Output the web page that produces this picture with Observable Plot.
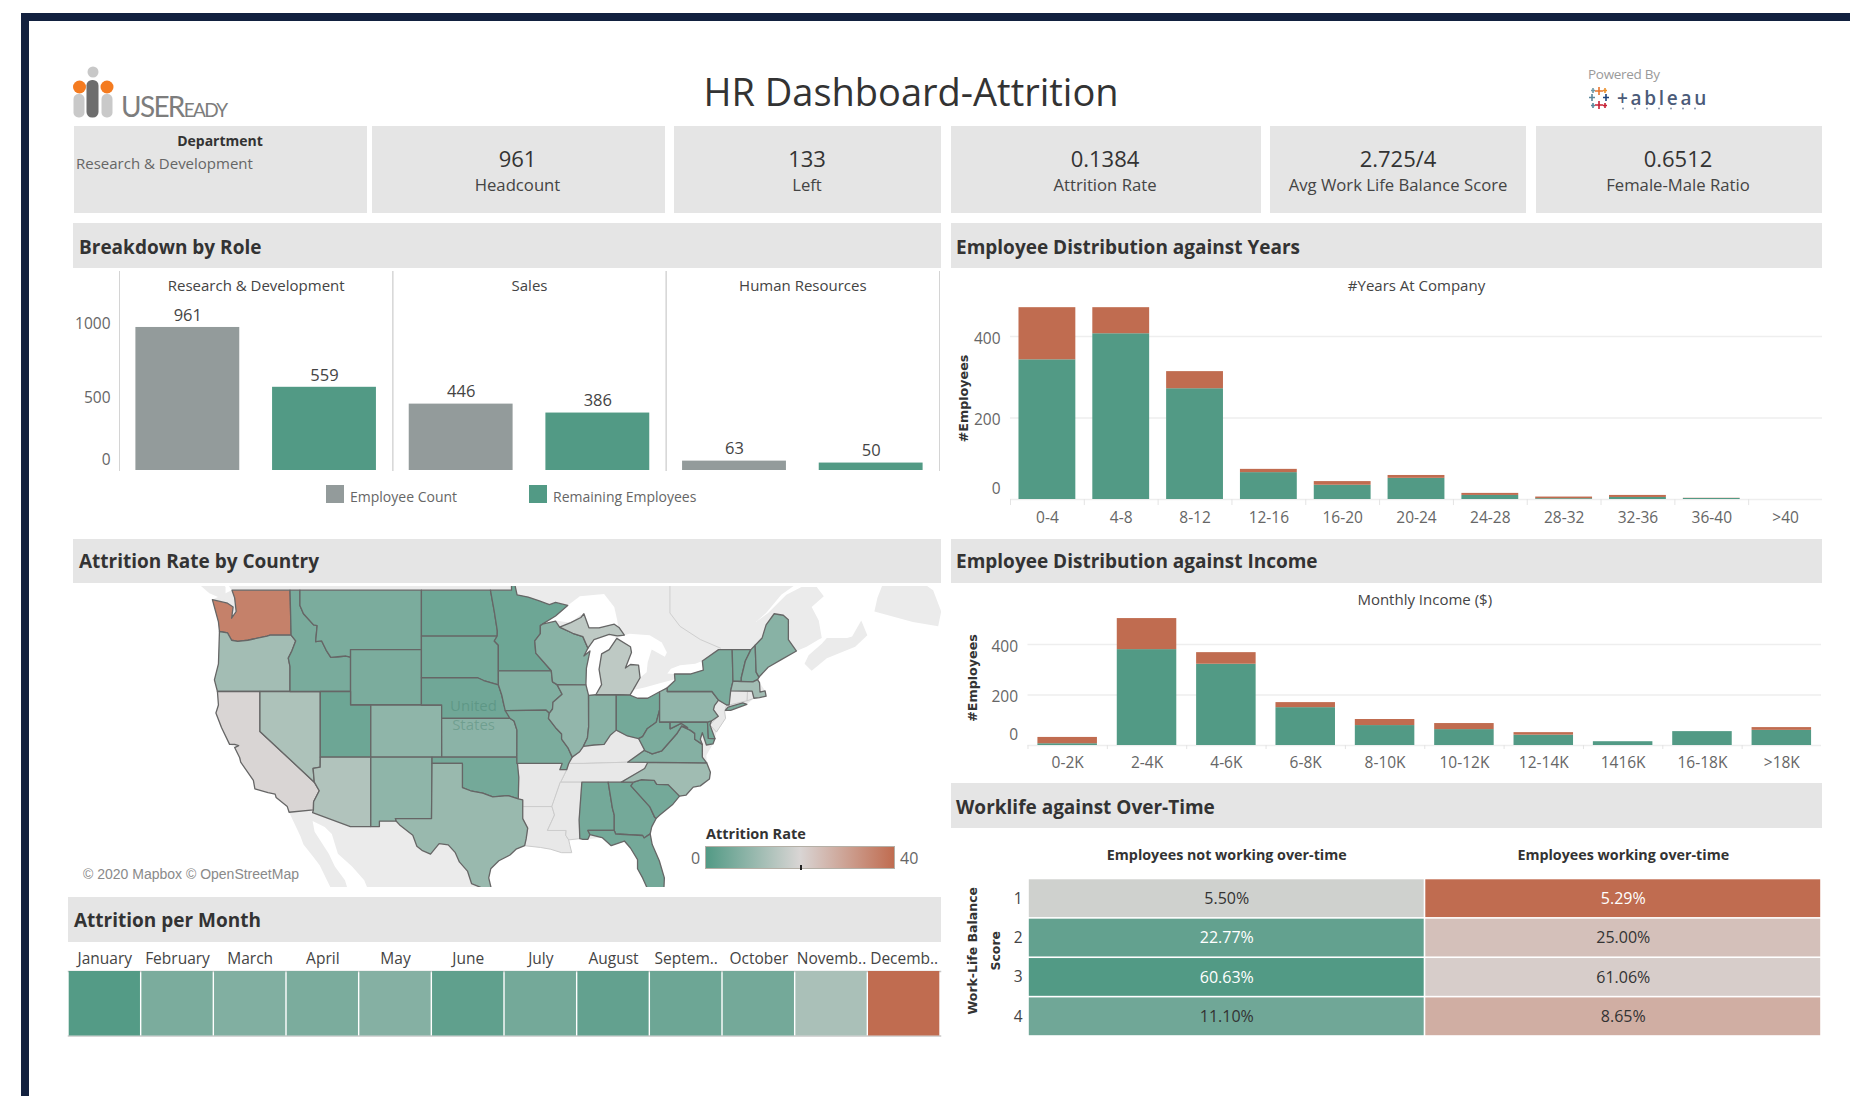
<!DOCTYPE html>
<html><head><meta charset="utf-8">
<script src="https://cdn.jsdelivr.net/npm/d3@7"></script>
<script src="https://cdn.jsdelivr.net/npm/@observablehq/plot@0.6"></script>
<style>
html,body{margin:0;padding:0;background:#fff;overflow:hidden}
#page{position:relative;width:1850px;height:1096px;font-family:"Open Sans",sans-serif;color:#333}
#page>*{position:absolute}
#page svg{display:block}
.box{background:#e5e5e5}
.txt{white-space:nowrap;line-height:1;transform:translate(-50%,-50%)}
.head{white-space:nowrap;line-height:1;transform:translateY(-50%);font-weight:700;font-size:19px;color:#333}
</style></head><body><div id="page"></div>
<script>
// ---------- DATA ----------
const kpiValues=["961","133","0.1384","2.725/4","0.6512"];
const kpiLabels=["Headcount","Left","Attrition Rate","Avg Work Life Balance Score","Female-Male Ratio"];
const departments=["Research & Development","Sales","Human Resources"];
const employeeCount=[961,446,63];
const remainingEmployees=[559,386,50];
const roleMeasures=["Employee Count","Remaining Employees"];
const yearBins=["0-4","4-8","8-12","12-16","16-20","20-24","24-28","28-32","32-36","36-40",">40"];
const yearStayed=[343,407,272,66,35,52,10,2,5,2.5,0];
const yearLeft=[128,64,42,8,9,7,5,4,5,0.5,0];
const incomeBins=["0-2K","2-4K","4-6K","6-8K","8-10K","10-12K","12-14K","1416K","16-18K",">18K"];
const incomeStayed=[7,380,322,150,79,63,41,15,55,60];
const incomeLeft=[25,123,46,20,24,24,10,0,0,11];
const months=["January","February","March","April","May","June","July","August","Septem..","October","Novemb..","Decemb.."];
const monthRate=[0.3,6,7,6,7.5,2,5,2.5,4,5,13,40];
const overtimeGroups=["Employees not working over-time","Employees working over-time"];
const balanceScores=[1,2,3,4];
const notOvertimeShare=["5.50%","22.77%","60.63%","11.10%"];
const overtimeShare=["5.29%","25.00%","61.06%","8.65%"];
const notOvertimeRate=[18.5,2.5,0,4.5];
const overtimeRate=[40,24,21.5,27.4];
const rateDomain=[0,20,40];
const rateRange=["#529a85","#d9d5d4","#c06c50"];

// state outlines, longitude / latitude
const washington=[[-124.7,48.38],[-124.1,46.9],[-124,46.25],[-123.2,46.15],[-122.8,45.65],[-122.2,45.57],[-121.2,45.65],[-119.3,45.93],[-119,46],[-116.92,46],[-117.03,49],[-122.76,49],[-122.5,48.5],[-122.35,47.6],[-122.8,47.15],[-122.65,47.9],[-123.2,48.15]];
const oregon=[[-124.2,42],[-124.5,42.85],[-124.1,44],[-124,46.25],[-123.2,46.15],[-122.8,45.65],[-122.2,45.57],[-121.2,45.65],[-119.3,45.93],[-119,46],[-116.92,46],[-116.47,45.6],[-116.85,44.9],[-117.2,44.4],[-117.03,43.8],[-117.03,42]];
const california=[[-124.2,42],[-120,42],[-120,39],[-114.63,35],[-114.14,34.3],[-114.7,33.4],[-114.72,32.72],[-117.12,32.53],[-117.3,33],[-118.4,33.75],[-118.5,34.03],[-119.2,34.15],[-120.5,34.45],[-120.65,35.15],[-121.9,36.6],[-122,36.95],[-122.5,37.75],[-122.1,37.9],[-122.5,38],[-123,38],[-123.8,39.3],[-124.35,40.4],[-124.1,41]];
const nevada=[[-120,42],[-114.04,42],[-114.04,37],[-114.05,36.2],[-114.75,36.1],[-114.63,35],[-120,39]];
const idaho=[[-117.03,49],[-116.05,49],[-116.05,48],[-115.7,47.45],[-114.7,46.7],[-114.35,46.65],[-114.5,45.55],[-113.9,45.6],[-113.45,44.95],[-113,44.45],[-112.3,44.5],[-111.5,44.55],[-111.05,44.47],[-111.05,42],[-117.03,42],[-117.03,43.8],[-117.2,44.4],[-116.85,44.9],[-116.47,45.6],[-116.92,46]];
const montana=[[-116.05,49],[-104.05,49],[-104.05,45],[-111.05,45],[-111.05,44.47],[-111.5,44.55],[-112.3,44.5],[-113,44.45],[-113.45,44.95],[-113.9,45.6],[-114.5,45.55],[-114.35,46.65],[-114.7,46.7],[-115.7,47.45],[-116.05,48]];
const wyoming=[[-111.05,45],[-104.05,45],[-104.05,41],[-111.05,41]];
const utah=[[-114.04,42],[-111.05,42],[-111.05,41],[-109.05,41],[-109.05,37],[-114.04,37]];
const colorado=[[-109.05,41],[-102.05,41],[-102.05,37],[-109.05,37]];
const arizona=[[-114.04,37],[-109.05,37],[-109.05,31.33],[-111.07,31.33],[-114.8,32.5],[-114.72,32.72],[-114.7,33.4],[-114.14,34.3],[-114.63,35],[-114.75,36.1],[-114.05,36.2]];
const newMexico=[[-109.05,37],[-103,37],[-103.05,32],[-106.62,32],[-106.53,31.78],[-108.2,31.78],[-108.2,31.33],[-109.05,31.33]];
const northDakota=[[-104.05,49],[-97.23,49],[-96.85,47.6],[-96.55,46.3],[-96.56,45.94],[-104.05,45.94]];
const southDakota=[[-104.05,45.94],[-96.56,45.94],[-96.85,45.6],[-96.45,45.3],[-96.45,43.5],[-96.45,42.49],[-97.9,42.8],[-98.5,43],[-104.05,43]];
const nebraska=[[-104.05,43],[-98.5,43],[-97.9,42.8],[-96.45,42.49],[-96.1,41.7],[-95.9,41],[-95.31,40],[-102.05,40],[-102.05,41],[-104.05,41]];
const kansas=[[-102.05,40],[-95.31,40],[-94.9,39.8],[-94.61,39.1],[-94.62,37],[-102.04,37]];
const oklahoma=[[-103,37],[-94.62,37],[-94.43,35.4],[-94.48,33.64],[-95.5,33.9],[-97,33.8],[-98,34.1],[-99.2,34.3],[-100,34.56],[-100,36.5],[-103,36.5]];
const texas=[[-106.62,32],[-103.05,32],[-103,36.5],[-100,36.5],[-100,34.56],[-99.2,34.3],[-98,34.1],[-97,33.8],[-95.5,33.9],[-94.48,33.64],[-94.04,33.55],[-94.04,32],[-93.55,31.2],[-93.7,30.3],[-93.85,29.7],[-94.7,29.4],[-95.3,28.9],[-96.4,28.4],[-97.2,27.7],[-97.4,26.9],[-97.15,25.96],[-97.5,25.85],[-98.2,26.06],[-99.1,26.4],[-99.5,27.5],[-100.3,28.3],[-100.7,29.1],[-101.4,29.77],[-102.3,29.88],[-103.15,28.97],[-104,29.3],[-104.5,29.65],[-104.9,30.6],[-106.2,31.47],[-106.53,31.78]];
const minnesota=[[-97.23,49],[-95.15,49],[-95.15,49.38],[-94.8,49.3],[-94.6,48.7],[-93.5,48.55],[-92.4,48.3],[-91.4,48.05],[-90.8,48.2],[-89.6,48],[-90.8,47.3],[-92.1,46.75],[-92.3,46.65],[-92.3,46.1],[-92.85,45.6],[-92.75,44.75],[-91.22,43.5],[-96.45,43.5],[-96.45,45.3],[-96.85,45.6],[-96.56,45.94],[-96.55,46.3],[-96.85,47.6]];
const iowa=[[-96.45,43.5],[-91.22,43.5],[-91.1,42.7],[-90.65,42.5],[-90.15,41.8],[-91.05,41.2],[-91.1,40.7],[-91.42,40.38],[-91.73,40.61],[-95.77,40.58],[-95.9,41],[-96.1,41.7],[-96.45,42.49]];
const missouri=[[-95.77,40.58],[-91.73,40.61],[-91.42,40.38],[-91.5,40],[-90.7,39.2],[-90.2,38.8],[-90.2,38.4],[-89.55,37.7],[-89.15,37],[-89.5,36.5],[-89.7,36],[-90.37,36],[-90.15,36.5],[-94.62,36.5],[-94.62,37],[-94.61,39.1],[-94.9,39.8],[-95.31,40]];
const wisconsin=[[-92.1,46.75],[-90.8,46.95],[-90.4,46.55],[-89.1,46.13],[-88.1,45.9],[-87.6,45.1],[-88,44.55],[-87.4,44.9],[-87.75,43.7],[-87.8,42.49],[-90.65,42.5],[-91.1,42.7],[-91.22,43.5],[-92.75,44.75],[-92.85,45.6],[-92.3,46.1],[-92.3,46.65]];
const illinois=[[-90.65,42.5],[-87.8,42.49],[-87.55,41.75],[-87.53,39.35],[-87.65,38.5],[-88.05,37.85],[-88.45,37.4],[-89.15,37],[-89.55,37.7],[-90.2,38.4],[-90.2,38.8],[-90.7,39.2],[-91.5,40],[-91.42,40.38],[-91.1,40.7],[-91.05,41.2],[-90.15,41.8]];
const indiana=[[-87.53,41.72],[-86.82,41.76],[-84.8,41.76],[-84.8,39.1],[-85.4,38.7],[-86,38],[-87,37.95],[-88.05,37.85],[-87.65,38.5],[-87.53,39.35]];
const michiganLower=[[-86.82,41.76],[-84.8,41.76],[-83.45,41.73],[-83.15,42.1],[-82.45,43],[-82.6,43.9],[-83.4,43.95],[-83.9,43.7],[-83.3,44.8],[-83.4,45.2],[-84.75,45.78],[-85.5,45],[-86.25,44.7],[-86.5,43.6],[-86.25,42.5]];
const michiganUpper=[[-90.4,46.55],[-89.1,46.13],[-88.1,45.9],[-87.6,45.1],[-87,45.7],[-85.5,46.05],[-84.7,45.95],[-84,46],[-84.5,46.5],[-85,46.75],[-86.5,46.5],[-87.5,46.5],[-88,47.45],[-88.3,47.2],[-89.3,46.85]];
const ohio=[[-84.8,41.76],[-83.45,41.73],[-82.7,41.5],[-81.7,41.5],[-80.52,41.98],[-80.52,40.64],[-80.85,39.7],[-81.75,39.2],[-82.2,38.6],[-82.6,38.45],[-83.7,38.65],[-84.8,39.1]];
const alabama=[[-88.2,35],[-85.6,35],[-85.18,32.87],[-85,32.3],[-85,31],[-87.6,31],[-87.4,30.65],[-87.6,30.25],[-88.1,30.25],[-88.4,30.3],[-88.47,31.9]];
const georgia=[[-85.6,35],[-83.1,35],[-83.35,34.7],[-81.5,33],[-81,32.1],[-80.85,32.03],[-81.3,31.3],[-81.45,30.71],[-82.05,30.36],[-82.2,30.57],[-84.86,30.7],[-85,31],[-85,32.3],[-85.18,32.87]];
const florida=[[-87.6,31],[-85,31],[-84.86,30.7],[-82.2,30.57],[-82.05,30.36],[-81.45,30.71],[-81.25,29.8],[-80.55,28.4],[-80.05,26.9],[-80.1,25.8],[-80.4,25.2],[-81.1,25.15],[-81.8,26.1],[-82.2,26.9],[-82.7,27.7],[-82.7,28.5],[-83.4,29.5],[-84,30.1],[-85.3,29.7],[-86.2,30.4],[-87.4,30.65]];
const southCarolina=[[-83.1,35],[-82.3,35.2],[-81.05,35.15],[-80.8,34.82],[-79.67,34.8],[-78.55,33.86],[-79.2,33.2],[-80.5,32.3],[-80.85,32.03],[-81,32.1],[-81.5,33],[-83.35,34.7]];
const northCarolina=[[-84.3,35],[-83.1,35],[-82.3,35.2],[-81.05,35.15],[-80.8,34.82],[-79.67,34.8],[-78.55,33.86],[-77.9,33.95],[-77.2,34.6],[-76.5,34.7],[-75.6,35.25],[-75.5,35.8],[-75.87,36.55],[-81.68,36.59],[-82,36.1]];
const virginia=[[-83.68,36.6],[-75.87,36.55],[-76.3,37],[-76.3,37.6],[-76.3,38],[-77.05,38.4],[-77.05,38.85],[-77.5,39.1],[-78.35,39.4],[-78.85,38.8],[-79.3,38.4],[-80.3,37.5],[-81.25,37.25],[-81.95,37.5],[-82,37.55]];
const westVirginia=[[-82.6,38.45],[-82,37.55],[-81.95,37.5],[-81.25,37.25],[-80.3,37.5],[-79.3,38.4],[-78.85,38.8],[-78.35,39.4],[-77.75,39.3],[-78.4,39.62],[-79.48,39.2],[-79.48,39.72],[-80.52,39.72],[-80.52,40.64],[-80.85,39.7],[-81.75,39.2],[-82.2,38.6]];
const maryland=[[-79.48,39.72],[-75.79,39.72],[-75.7,38.46],[-75.05,38.45],[-75.25,38.03],[-75.9,37.95],[-76.3,38.9],[-76.5,38.4],[-76.3,38],[-77.05,38.4],[-77.05,38.85],[-77.5,39.1],[-78.35,39.4],[-77.75,39.3],[-78.4,39.62],[-79.48,39.2]];
const delaware=[[-75.79,39.72],[-75.4,39.8],[-75.55,39.5],[-75.05,38.45],[-75.7,38.46]];
const pennsylvania=[[-80.52,41.98],[-79.76,42.27],[-79.76,42],[-75.35,42],[-74.7,41.36],[-75.1,40.95],[-75.2,40.65],[-74.72,40.15],[-75.4,39.8],[-75.79,39.72],[-80.52,39.72]];
const newYork=[[-79.76,42.27],[-79.76,42],[-75.35,42],[-74.7,41.36],[-73.9,41],[-73.65,41],[-73.5,42.05],[-73.27,42.75],[-73.35,45],[-74.7,45],[-76.3,44.2],[-76.2,43.55],[-77.5,43.27],[-79.05,43.27],[-79,42.8]];
const longIsland=[[-74.03,40.6],[-73.75,40.85],[-72.3,41.15],[-71.9,41.05],[-73.5,40.6]];
const vermont=[[-73.35,45],[-71.5,45],[-72.05,44.2],[-72.45,43],[-72.45,42.73],[-73.27,42.75]];
const newHampshire=[[-71.5,45],[-71.08,45.3],[-70.98,43.4],[-70.7,43.05],[-70.85,42.87],[-71.3,42.7],[-72.45,42.73],[-72.45,43],[-72.05,44.2]];
const maine=[[-71.08,45.3],[-70.4,45.8],[-70,46.7],[-69.2,47.45],[-68.3,47.35],[-67.8,47.05],[-67.8,45.7],[-67,44.9],[-68.5,44.3],[-69.8,43.75],[-70.7,43.05],[-70.98,43.4]];
const massachusetts=[[-73.5,42.05],[-71.8,42.02],[-71.38,42.02],[-71.2,41.5],[-70.65,41.55],[-70,41.65],[-70.1,42.05],[-70.6,41.95],[-70.65,42.65],[-70.85,42.87],[-71.3,42.7],[-72.45,42.73],[-73.27,42.75]];
// states with no reported value: only the base map shows them
const kentucky=[[-89.15,37],[-88.45,37.4],[-88.05,37.85],[-87,37.95],[-86,38],[-85.4,38.7],[-84.8,39.1],[-83.7,38.65],[-82.6,38.45],[-82,37.55],[-83.68,36.6],[-88.07,36.5],[-89.5,36.5]];
const tennessee=[[-89.5,36.5],[-88.07,36.5],[-83.68,36.6],[-81.68,36.59],[-82,36.1],[-84.3,35],[-90.3,35],[-89.7,36]];
const arkansas=[[-94.62,36.5],[-90.15,36.5],[-90.37,36],[-89.7,36],[-90.3,35],[-91.15,33],[-94.04,33],[-94.04,33.55],[-94.48,33.64],[-94.43,35.4]];
const louisiana=[[-94.04,33],[-91.15,33],[-90.9,32.3],[-91.6,31],[-89.75,31],[-89.8,30.6],[-89.5,30.2],[-89.4,29.8],[-89.2,29.1],[-90.2,29.1],[-91.3,29.4],[-92.3,29.55],[-93.85,29.7],[-93.7,30.3],[-93.55,31.2],[-94.04,32]];
const mississippi=[[-90.3,35],[-88.2,35],[-88.47,31.9],[-88.4,30.3],[-89.5,30.2],[-89.8,30.6],[-89.75,31],[-91.6,31],[-90.9,32.3],[-91.15,33]];
const connecticut=[[-73.5,42.05],[-71.8,42.02],[-71.85,41.32],[-73.65,41]];
const rhodeIsland=[[-71.8,42.02],[-71.38,42.02],[-71.2,41.5],[-71.85,41.32]];
const newJersey=[[-74.7,41.36],[-73.9,41],[-74.1,40.5],[-74,40],[-74.9,38.95],[-75.55,39.5],[-74.72,40.15],[-75.2,40.65],[-75.1,40.95]];
// base map
const mainland=[[-123.2,49.4],[-122.8,49],[-124.7,48.38],[-124.1,46.9],[-124,46.25],[-124.1,44],[-124.5,42.85],[-124.2,42],[-124.1,41],[-124.35,40.4],[-123.8,39.3],[-123,38],[-122.5,37.75],[-122,36.95],[-121.9,36.6],[-120.65,35.15],[-120.5,34.45],[-119.2,34.15],[-118.5,34.03],[-118.4,33.75],[-117.3,33],[-117.12,32.53],[-116,30.5],[-115.7,29.8],[-114.7,28.7],[-114.1,28],[-113,26],[-111.2,25.5],[-111.6,26.7],[-112.6,27.9],[-113.2,29],[-114.6,30.9],[-114.8,31.8],[-113.6,31.3],[-112.9,30.7],[-112.3,29],[-110.9,27.9],[-109.7,26.7],[-109.2,25.6],[-97.7,25],[-97.15,25.96],[-97.4,26.9],[-97.2,27.7],[-96.4,28.4],[-95.3,28.9],[-94.7,29.4],[-93.85,29.7],[-92.3,29.55],[-91.3,29.4],[-90.2,29.1],[-89.2,29.1],[-89.4,29.8],[-89.5,30.2],[-88.4,30.3],[-87.6,30.25],[-86.2,30.4],[-85.3,29.7],[-84,30.1],[-83.4,29.5],[-82.7,28.5],[-82.7,27.7],[-82.2,26.9],[-81.8,26.1],[-81.5,25],[-80.2,25],[-80.05,26.9],[-80.55,28.4],[-81.25,29.8],[-81.45,30.71],[-81,32],[-80,32.6],[-79.2,33.2],[-78.55,33.86],[-77.9,33.95],[-77.2,34.6],[-76.5,34.7],[-75.6,35.25],[-75.5,35.8],[-75.87,36.55],[-75.9,37.15],[-75.25,38.03],[-75.05,38.45],[-74.9,38.95],[-74,40],[-74.1,40.5],[-73.5,40.6],[-71.9,41.05],[-71.2,41.5],[-70.65,41.55],[-70,41.65],[-70.1,42.05],[-70.65,42.65],[-70.7,43.05],[-69.8,43.75],[-68.5,44.3],[-67,44.9],[-66,45.2],[-64.8,45.7],[-64.5,45.8],[-64.8,47],[-65.5,47.9],[-64.3,48.6],[-65,49.2],[-66.5,49.2],[-68,48.7],[-69.8,47.5],[-71,46.9],[-70,47.5],[-68.5,48.7],[-67,49.4],[-67,51],[-128,51]];
const vancouverIsland=[[-128,50.5],[-125,48.8],[-123.4,48.35],[-123.4,49.2],[-125,50.5]];
const novaScotia=[[-66.2,44],[-65.5,43.5],[-64,44.4],[-61.2,45.2],[-60,46],[-60.6,47],[-61.5,45.9],[-62,45.8],[-64,45.8],[-64.5,45.4],[-65.8,44.6]];
const newfoundland=[[-59.3,47.6],[-55.5,46.9],[-53,46.6],[-52.7,47.6],[-53.5,49],[-55.5,49.9],[-57.5,51],[-59,48.5]];
const lakeSuperior=[[-92.1,46.75],[-90.8,47],[-89.3,46.85],[-88.3,47.4],[-87.5,46.5],[-86.5,46.5],[-85,46.75],[-84.6,46.5],[-84.7,47],[-85,47.9],[-86,48.75],[-88.4,48.6],[-89.6,48],[-90.8,47.3]];
const lakeMichigan=[[-87.8,42.49],[-87.55,41.75],[-86.82,41.76],[-86.25,42.5],[-86.5,43.6],[-86.25,44.7],[-85.5,45],[-84.75,45.78],[-85.5,46.05],[-87,45.7],[-87.6,45.1],[-88,44.55],[-87.4,44.9],[-87.75,43.7]];
const lakeHuron=[[-84.75,45.78],[-83.4,45.2],[-83.3,44.8],[-83.9,43.7],[-83.4,43.95],[-82.6,43.9],[-82.45,43],[-81.8,43.4],[-81.7,44.1],[-81.3,45],[-80,44.5],[-79.8,44.8],[-80.3,45.5],[-81.5,46],[-83.5,46.1],[-84,46]];
const lakeErie=[[-83.15,42.1],[-83.45,41.73],[-82.7,41.5],[-81.7,41.5],[-80.52,41.98],[-79,42.8],[-79,42.9],[-80.5,42.6],[-82,42.3]];
const lakeOntario=[[-79.76,43.3],[-79.05,43.27],[-77.5,43.27],[-76.2,43.55],[-76.3,44.2],[-77,44],[-78.5,43.9],[-79.4,43.65]];
const ontarioQuebecLine=[[-79.5,49.4],[-79.5,47.5],[-78.5,46.6],[-76.5,45.7],[-74.5,45.1]];

const reportedStates=[washington,oregon,california,nevada,idaho,montana,wyoming,utah,colorado,arizona,newMexico,northDakota,southDakota,nebraska,kansas,oklahoma,texas,minnesota,iowa,missouri,wisconsin,illinois,indiana,michiganLower,michiganUpper,ohio,alabama,georgia,florida,southCarolina,northCarolina,virginia,westVirginia,maryland,delaware,pennsylvania,newYork,longIsland,vermont,newHampshire,maine,massachusetts];
const reportedRates=[36,12,20,13.5,5.8,6,6,4,9,14,9,4,5,4.5,8.5,5,10.5,4,7,6,8,9.5,8,16,16,5,5,5,5,5,11.5,7.5,6,6,5,9.5,6,6,6,7,8,12];
const unreportedStates=[kentucky,tennessee,arkansas,louisiana,mississippi,connecticut,rhodeIsland,newJersey];
const landShapes=[mainland,vancouverIsland,novaScotia,newfoundland];
const lakeShapes=[lakeSuperior,lakeMichigan,lakeHuron,lakeErie,lakeOntario];

// ---------- HELPERS ----------
const page=document.getElementById("page");
const GREEN="#529a85",RED="#c06c50",GREY="#939b9b",TICK="#666",FONT='"Open Sans",sans-serif';
function el(html,css,cls){const d=document.createElement("div");if(cls)d.className=cls;d.style.cssText=css;d.innerHTML=html;page.appendChild(d);return d;}
function box(x0,y0,x1,y1){el("",`left:${x0}px;top:${y0}px;width:${x1-x0}px;height:${y1-y0}px`,"box");}
function center(t,x,y,size,extra=""){el(t,`left:${x}px;top:${y}px;font-size:${size}px;${extra}`,"txt");}
function head(t,x,y){el(t,`left:${x}px;top:${y}px`,"head");}
function place(svg,x,y,overflow="visible"){svg.style.position="absolute";svg.style.left=x+"px";svg.style.top=y+"px";svg.style.maxWidth="none";svg.style.overflow=overflow;page.appendChild(svg);return svg;}
const plotStyle={fontFamily:FONT,fontSize:"15.5px",background:"transparent",color:"#444"};
const poly=(ring,properties={})=>({type:"Feature",properties,geometry:{type:"Polygon",coordinates:[[...ring,ring[0]]]}});

// ---------- FRAME + HEADER ----------
el("","left:21px;top:13px;width:1829px;height:7.5px;background:#12213f");
el("","left:21px;top:13px;width:8px;height:1083px;background:#12213f");
el(`<svg width="42" height="52" viewBox="0 0 42 52"><circle cx="20" cy="6" r="5.5" fill="#c8c8c8"/><circle cx="6.5" cy="21" r="6.5" fill="#f47b20"/><circle cx="34" cy="21" r="6.5" fill="#f47b20"/><rect x="0.5" y="28" width="11" height="23.5" rx="5" fill="#c9c9c9"/><rect x="13.5" y="14" width="12" height="37.5" rx="5.5" fill="#6d6d6d"/><rect x="28.5" y="28" width="11" height="23.5" rx="5" fill="#c9c9c9"/></svg>`,"left:73px;top:66px;width:42px;height:52px");
el(`USER<span style="font-size:19px">EADY</span>`,'left:121px;top:92px;font-family:Lato,sans-serif;font-weight:400;font-size:28px;letter-spacing:-1.7px;color:#7d7d7d;line-height:28px;white-space:nowrap');
center("HR Dashboard-Attrition",911,91,38,"color:#333");
el("Powered By","left:1588px;top:67px;font-size:13.500px;color:#9a9a9a;white-space:nowrap;letter-spacing:-.3px;line-height:15px");
el(`<svg width="22" height="24" viewBox="0 0 22 24"><g stroke-width="1.6"><path d="M11 1v8M7 5h8" stroke="#e8762c"/><path d="M11 15v8M7 19h8" stroke="#c72035"/><path d="M4 8v7M1 11.500h6" stroke="#5b879b"/><path d="M18 8v7M15 11.500h6" stroke="#1f457e"/><path d="M5 2v5M3 4.500h4" stroke="#7099a6"/><path d="M17 2v5M15 4.500h4" stroke="#eb912b"/><path d="M5 17v5M3 19.500h4" stroke="#59879b"/><path d="M17 17v5M15 19.500h4" stroke="#c72035"/></g></svg>`,"left:1588px;top:86px;width:22px;height:24px");
el("+ableau",'left:1617px;top:88px;font-family:"Open Sans",sans-serif;font-size:19px;font-weight:600;letter-spacing:2.7px;color:#4b5b79;line-height:20px;white-space:nowrap');
el(`<svg width="88" height="3" viewBox="0 0 88 3"><g fill="#7a8aa5"><circle cx="6" cy="1.500" r=".9"/><circle cx="18" cy="1.500" r=".9"/><circle cx="30" cy="1.500" r=".9"/><circle cx="42" cy="1.500" r=".9"/><circle cx="54" cy="1.500" r=".9"/><circle cx="66" cy="1.500" r=".9"/><circle cx="78" cy="1.500" r=".9"/></g></svg>`,"left:1617px;top:107px;width:88px;height:3px");

// ---------- KPI STRIP ----------
box(74,126,367,213);box(372,126,665,213);box(674,126,941,213);box(951,126,1261,213);box(1270,126,1526,213);box(1536,126,1822,213);
center("Department",220,141,14,"font-weight:700;color:#333");
el("Research &amp; Development","left:76px;top:154px;font-size:15px;color:#666;white-space:nowrap;line-height:18px");
const kpiCenters=[517.5,807,1105,1398,1678];
kpiValues.forEach((v,i)=>{center(v,kpiCenters[i],158,22,"color:#333");center(kpiLabels[i],kpiCenters[i],185,16.700,"color:#444");});

// ---------- SECTION HEADERS ----------
box(73,223,941,268);box(951,223,1822,268);box(73,539,941,583);box(951,539,1822,583);box(951,783,1822,828);box(68,897,941,942);
head("Breakdown by Role",79,247);head("Employee Distribution against Years",956,247);
head("Attrition Rate by Country",79,561);head("Employee Distribution against Income",956,561);
head("Worklife against Over-Time",956,807);head("Attrition per Month",74,920);

// ---------- BREAKDOWN BY ROLE ----------
const roleRows=departments.flatMap((d,i)=>[
  {department:d,measure:roleMeasures[0],value:employeeCount[i]},
  {department:d,measure:roleMeasures[1],value:remainingEmployees[i]}]);
place(Plot.plot({width:868,height:200,marginLeft:46,marginRight:2,marginTop:0,marginBottom:1,style:plotStyle,
  fx:{domain:departments,padding:0,round:false,axis:null},
  x:{domain:roleMeasures,paddingInner:.24,paddingOuter:.12,round:false,axis:null},
  y:{domain:[0,1337],axis:null},
  color:{domain:roleMeasures,range:[GREY,GREEN]},
  marks:[
    Plot.frame({anchor:"left",stroke:"#d4d4d4"}),
    Plot.frame({anchor:"right",stroke:"#d4d4d4"}),
    Plot.barY(roleRows,{fx:"department",x:"measure",y:"value",fill:"measure"}),
    Plot.text(roleRows,{fx:"department",x:"measure",y:"value",text:"value",dy:-12,fill:"#444",fontSize:16.500}),
    Plot.text(departments,{fx:d=>d,text:d=>d,frameAnchor:"top",dy:9,fill:"#444",fontSize:15}),
    Plot.axisY([500,1000],{tickSize:0,tickPadding:9,dy:2,fill:TICK,label:null,tickFormat:d=>String(d)}),
    Plot.axisY([0],{tickSize:0,tickPadding:9,dy:-10,fill:TICK,label:null})
  ]}),73,271);
el("","left:326px;top:485px;width:18px;height:18px;background:"+GREY);
el("","left:529px;top:485px;width:18px;height:18px;background:"+GREEN);
el(roleMeasures[0],"left:350px;top:488px;font-size:14px;color:#666;white-space:nowrap;line-height:18px");
el(roleMeasures[1],"left:553px;top:488px;font-size:14px;color:#666;white-space:nowrap;line-height:18px");

// ---------- STACKED DISTRIBUTIONS ----------
function stacked({bins,stayed,left,x,y,width,height,marginLeft,marginBottom,top,title,titleDy,ticks,barPadding,yLabelDx,zeroDy,axisPad}){
  const rows=bins.flatMap((b,i)=>[{bin:b,status:"Remaining",value:stayed[i]},{bin:b,status:"Left",value:left[i]}]);
  const step=(width-marginLeft)/bins.length;
  return place(Plot.plot({width,height,marginLeft,marginRight:0,marginTop:2,marginBottom,style:plotStyle,
    x:{domain:bins,paddingInner:barPadding,paddingOuter:barPadding/2,round:false,axis:null},
    y:{domain:[0,top],axis:null},
    color:{domain:["Remaining","Left"],range:[GREEN,RED]},
    marks:[
      Plot.ruleY(ticks,{stroke:"#eeeeee",strokeWidth:1.5}),
      Plot.ruleY([0],{stroke:"#eeeeee",strokeWidth:1.5}),
      Plot.ruleX(bins,{x:d=>d,dx:-step/2,y1:0,y2:-top*.03,stroke:"#e4e4e4"}),
      Plot.barY(rows,{x:"bin",y:"value",fill:"status"}),
      Plot.axisX({anchor:"bottom",tickSize:0,tickPadding:axisPad,fill:TICK,label:null}),
      Plot.axisY(ticks,{tickSize:0,tickPadding:10,dy:2,fill:TICK,label:null,tickFormat:d=>String(d)}),
      Plot.axisY([0],{tickSize:0,tickPadding:10,dy:zeroDy,fill:TICK,label:null}),
      Plot.text(["#Employees"],{frameAnchor:"left",textAnchor:"middle",rotate:-90,dx:yLabelDx,fontFamily:"DejaVu Sans",fontWeight:"bold",fontSize:12.700,fill:"#333"}),
      Plot.text([title],{frameAnchor:"top",dy:titleDy,fill:"#444",fontSize:15})
    ]}),x,y);
}
stacked({bins:yearBins,stayed:yearStayed,left:yearLeft,x:951,y:295,width:871,height:235,marginLeft:59,marginBottom:31,top:496,title:"#Years At Company",titleDy:-17,ticks:[200,400],barPadding:.23,yLabelDx:-47,zeroDy:-10,axisPad:12});
stacked({bins:incomeBins,stayed:incomeStayed,left:incomeLeft,x:951,y:608,width:870,height:170,marginLeft:76.500,marginBottom:33,top:535,title:"Monthly Income ($)",titleDy:-16,ticks:[200,400],barPadding:.25,yLabelDx:-55,zeroDy:-10,axisPad:11});

// ---------- MAP ----------
const K=580,TX=1401.2,TY=574.3;
const mercatorFlat=d3.geoTransform({point(lon,lat){this.stream.point(TX+K*lon*Math.PI/180,TY-K*Math.log(Math.tan(Math.PI/4+lat*Math.PI/360)));}});
const stateFeatures=reportedStates.map((r,i)=>poly(r,{rate:reportedRates[i]}));
place(Plot.plot({width:868,height:301,margin:0,style:plotStyle,projection:mercatorFlat,
  color:{type:"linear",domain:rateDomain,range:rateRange},
  marks:[
    Plot.geo(landShapes.map(r=>poly(r)),{fill:"#ebebeb",stroke:"none"}),
    Plot.geo(lakeShapes.map(r=>poly(r)),{fill:"#ffffff",stroke:"none"}),
    Plot.geo(unreportedStates.map(r=>poly(r)),{fill:"#e8e8e8",stroke:"#cccccc",strokeWidth:1}),
    Plot.geo([{type:"Feature",properties:{},geometry:{type:"LineString",coordinates:ontarioQuebecLine}}],{stroke:"#cfcfcf",fill:"none",strokeWidth:1}),
    Plot.geo(stateFeatures,{fill:d=>d.properties.rate,stroke:"#666",strokeWidth:1.300,strokeLinejoin:"round"}),
    Plot.text(["United\nStates"],{x:()=>-98.9,y:()=>40.3,fill:"#3c7a66",fillOpacity:.35,fontSize:15,lineHeight:1.25})
  ]}),73,586,"hidden");
el("© 2020 Mapbox © OpenStreetMap",'left:83px;top:866px;font-family:"Liberation Sans",sans-serif;font-size:14px;color:#8a8a8a;white-space:nowrap;line-height:16px');
el("Attrition Rate","left:706px;top:825px;font-size:14.500px;font-weight:700;color:#333;white-space:nowrap;line-height:18px");
el("",`left:705px;top:846px;width:188px;height:21px;border:1px solid #b4afa6;background:linear-gradient(to right,${rateRange[0]},${rateRange[1]} 50%,${rateRange[2]})`);
el("","left:800px;top:865px;width:1.5px;height:5px;background:#222");
el("0","left:691px;top:850px;font-size:16px;color:#666;line-height:17px");
el("40","left:900px;top:850px;font-size:16px;color:#666;line-height:17px");

// ---------- ATTRITION PER MONTH ----------
place(Plot.plot({width:873,height:96,marginLeft:0,marginRight:1,marginTop:31,marginBottom:0.500,style:plotStyle,
  x:{domain:months,padding:0,round:false,axis:null},
  color:{type:"linear",domain:rateDomain,range:rateRange},
  marks:[
    Plot.frame({anchor:"top",stroke:"#c8c8c8",strokeWidth:1.500}),
    Plot.frame({anchor:"bottom",stroke:"#c8c8c8",strokeWidth:1.500}),
    Plot.cell(months.map((m,i)=>({month:m,rate:monthRate[i]})),{x:"month",fill:"rate",insetLeft:.7,insetRight:.7}),
    Plot.axisX({anchor:"top",tickSize:0,tickPadding:8,fill:"#444",label:null,fontSize:15.500})
  ]}),68,940);

// ---------- WORKLIFE HEATMAP ----------
const heatRows=balanceScores.flatMap((s,i)=>[
  {group:overtimeGroups[0],score:s,share:notOvertimeShare[i],rate:notOvertimeRate[i]},
  {group:overtimeGroups[1],score:s,share:overtimeShare[i],rate:overtimeRate[i]}]);
place(Plot.plot({width:870,height:195,marginLeft:77,marginRight:0,marginTop:33.500,marginBottom:4,style:plotStyle,
  x:{domain:overtimeGroups,padding:0,round:false,axis:null},
  y:{domain:balanceScores,padding:0,round:false,axis:null},
  color:{type:"linear",domain:rateDomain,range:rateRange},
  marks:[
    Plot.cell(heatRows,{x:"group",y:"score",fill:"rate",inset:.8}),
    Plot.text(heatRows,{x:"group",y:"score",text:"share",fill:{value:d=>Math.abs(d.rate-20)>16?"#ffffff":"#333333",scale:null},fontSize:16}),
    Plot.axisX({anchor:"top",tickSize:0,tickPadding:19,fill:"#333",fontWeight:"bold",fontSize:14.300,label:null}),
    Plot.axisY({anchor:"left",tickSize:0,tickPadding:6,fill:"#444",label:null}),
    Plot.text(["Work-Life Balance\nScore"],{frameAnchor:"left",textAnchor:"middle",rotate:-90,dx:-47,dy:-7,fontFamily:"DejaVu Sans",fontWeight:"bold",fontSize:12.500,lineHeight:1.800,fill:"#333"})
  ]}),951,845);
</script></body></html>
